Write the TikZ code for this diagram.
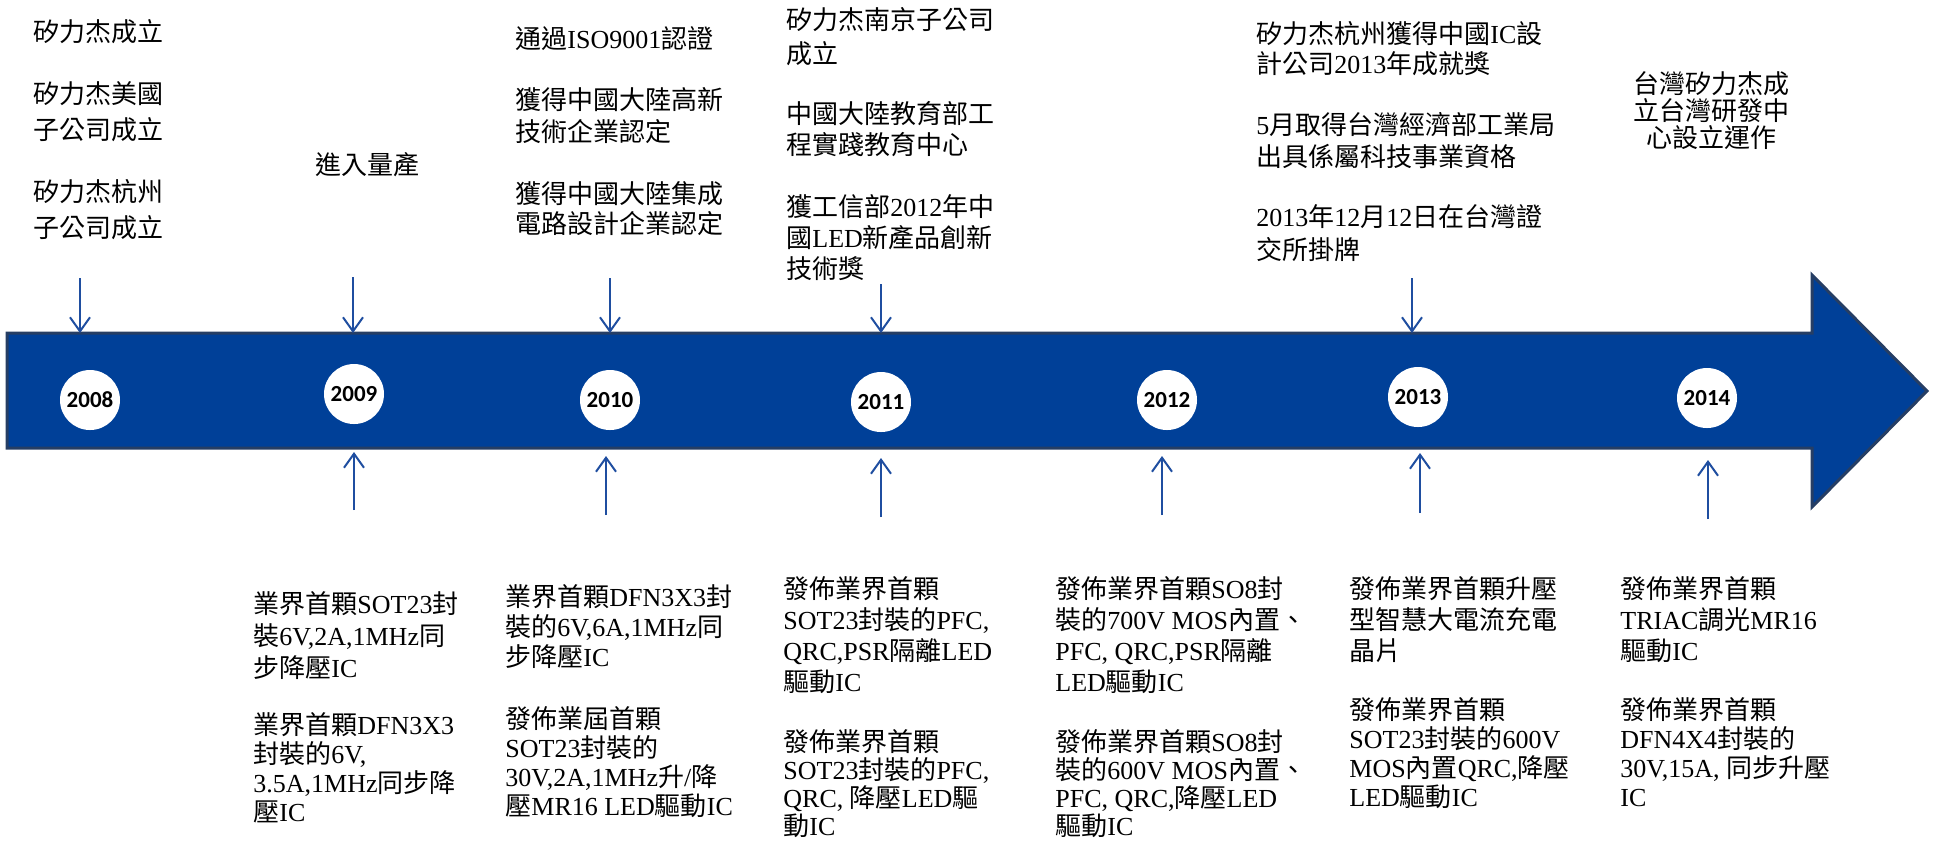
\documentclass[tikz,border=0pt]{standalone}
\usepackage{fontspec}
\setmainfont{Liberation Serif}
\newfontfamily\cjkfont{Noto Sans CJK TC}
\newfontfamily\yearfont{Carlito}
\usetikzlibrary{arrows.meta}

\newXeTeXintercharclass\cjkclass
\newcount\cjkcode
\cjkcode="3000
\loop
\XeTeXcharclass\cjkcode=\cjkclass
\advance\cjkcode by 1
\ifnum\cjkcode<"A000 \repeat
\XeTeXinterchartoks 0 \cjkclass = {\cjkfont}
\XeTeXinterchartoks 4095 \cjkclass = {\cjkfont}
\XeTeXinterchartoks \cjkclass 0 = {\rmfamily}
\XeTeXinterchartoks 4095 0 = {\rmfamily}
\newcommand\notefont[1]{\XeTeXinterchartokenstate=1 \fontsize{13}{#1}\selectfont}

\definecolor{barblue}{RGB}{0,64,152}
\definecolor{barline}{RGB}{38,62,100}
\definecolor{tickblue}{RGB}{31,78,160}

\begin{document}
\begin{tikzpicture}[x=0.5pt,y=-0.5pt,
	year/.style={circle,fill=white,inner sep=0pt,minimum size=30pt,font=\yearfont\bfseries\fontsize{11.5}{12}\selectfont},
	note/.style={font=\notefont{#1},align=left,anchor=north west,inner sep=0pt},
	note/.default=15,
	tick/.style={draw=tickblue,line width=1pt,-{Straight Barb[length=7pt,width=10pt]}}]
	\useasboundingbox (0,0) rectangle (1933,843);

	\draw[barline,fill=barblue,line width=1.5pt,line join=miter]
		(7,333) -- (1812,333) -- (1812,275) -- (1927,391) -- (1812,507) -- (1812,448) -- (7,448) -- cycle;

	\foreach \yr/\x/\y in {2008/90/400,2009/354/394,2010/610/400,2011/881/402,2012/1167/400,2013/1418/397,2014/1707/398}
		\node[year] (Y\yr) at (\x,\y) {\yr};

	\foreach \x/\t [count=\n] in {80/278,353/277,610/278,881/284,1412/278}
	{
		\coordinate (D\n) at (\x,\t);
		\coordinate (E\n) at (\x,333);
		\draw[tick] (D\n) -- (E\n);
	}

	\foreach \x/\t/\b [count=\n] in {354/452/510,606/456/515,881/458/517,1162/456/515,1420/453/513,1708/460/519}
	{
		\coordinate (U\n) at (\x,\b);
		\coordinate (V\n) at (\x,\t);
		\draw[tick] (U\n) -- (V\n);
	}

	\node[note] (T1) at (33,19) {矽力杰成立};
	\node[note=18] (T2) at (33,81) {矽力杰美國\\子公司成立};
	\node[note=18] (T3) at (33,179) {矽力杰杭州\\子公司成立};
	\node[note] (T4) at (315,152) {進入量產};
	\node[note] (T5) at (515,26) {通過ISO9001認證};
	\node[note=16] (T6) at (515,87) {獲得中國大陸高新\\技術企業認定};
	\node[note] (T7) at (515,181) {獲得中國大陸集成\\電路設計企業認定};
	\node[note=17] (T8) at (786,7) {矽力杰南京子公司\\成立};
	\node[note=15.5] (T9) at (786,101) {中國大陸教育部工\\程實踐教育中心};
	\node[note=15.5] (T10) at (786,194) {獲工信部2012年中\\國LED新產品創新\\技術獎};
	\node[note] (T11) at (1256,21) {矽力杰杭州獲得中國IC設\\計公司2013年成就獎};
	\node[note=16] (T12) at (1256,112) {5月取得台灣經濟部工業局\\出具係屬科技事業資格};
	\node[note=16.5] (T13) at (1256,204) {2013年12月12日在台灣證\\交所掛牌};
	\node[note=13.5,anchor=north,align=center] (T14) at (1711,71) {台灣矽力杰成\\立台灣研發中\\心設立運作};

	\node[note=16] (B1) at (253,591) {業界首顆SOT23封\\裝6V,2A,1MHz同\\步降壓IC};
	\node[note=14.5] (B2) at (253,712) {業界首顆DFN3X3\\封裝的6V,\\3.5A,1MHz同步降\\壓IC};
	\node[note] (B3) at (505,584) {業界首顆DFN3X3封\\裝的6V,6A,1MHz同\\步降壓IC};
	\node[note=14.5] (B4) at (505,706) {發佈業屆首顆\\SOT23封裝的\\30V,2A,1MHz升/降\\壓MR16 LED驅動IC};
	\node[note=15.5] (B5) at (783,576) {發佈業界首顆\\SOT23封裝的PFC,\\QRC,PSR隔離LED\\驅動IC};
	\node[note=14] (B6) at (783,729) {發佈業界首顆\\SOT23封裝的PFC,\\QRC, 降壓LED驅\\動IC};
	\node[note=15.5] (B7) at (1055,576) {發佈業界首顆SO8封\\裝的700V MOS內置、\\PFC, QRC,PSR隔離\\LED驅動IC};
	\node[note=14] (B8) at (1055,729) {發佈業界首顆SO8封\\裝的600V MOS內置、\\PFC, QRC,降壓LED\\驅動IC};
	\node[note=15.5] (B9) at (1349,576) {發佈業界首顆升壓\\型智慧大電流充電\\晶片};
	\node[note=14.5] (B10) at (1349,697) {發佈業界首顆\\SOT23封裝的600V\\MOS內置QRC,降壓\\LED驅動IC};
	\node[note=15.5] (B11) at (1620,576) {發佈業界首顆\\TRIAC調光MR16\\驅動IC};
	\node[note=14.5] (B12) at (1620,697) {發佈業界首顆\\DFN4X4封裝的\\30V,15A, 同步升壓\\IC};
\end{tikzpicture}
\end{document}
